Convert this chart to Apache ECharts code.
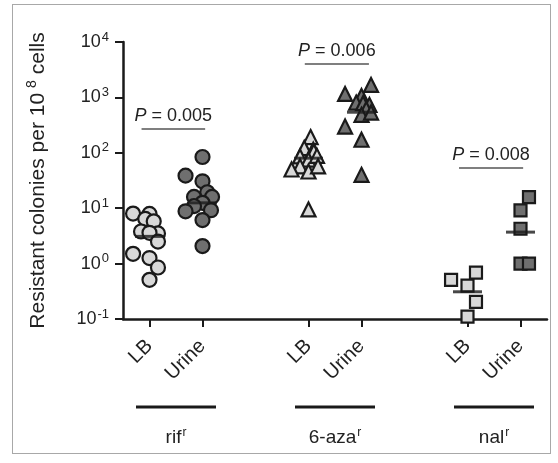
<!DOCTYPE html>
<html>
<head>
<meta charset="utf-8">
<script src="https://cdn.jsdelivr.net/npm/echarts@6/dist/echarts.min.js"></script>
<style>
  html, body { margin: 0; padding: 0; background: #fff; }
  #frame { position: absolute; left: 12px; top: 4px; width: 539px; height: 450px; border: 1.5px solid #a8a8a8; box-sizing: border-box; }
  #chart { position: absolute; left: 0; top: 0; width: 558px; height: 463px; }
</style>
</head>
<body>
<div id="frame"></div>
<div id="chart"></div>
<script>
// Condition labels and antibiotic groups
const conditions = ['LB', 'Urine'];
const groups = ['rif', '6-aza', 'nal'];
const conditionPos = [1, 2, 4, 5, 7, 8];   // x slot of each group/condition column

// Resistant colonies per 10^8 cells, one array per column
const rifLB      = [8.0, 7.9, 6.4, 5.8, 3.8, 3.5, 3.6, 2.5, 1.5, 1.26, 0.85, 0.51];
const rifUrine   = [84, 38.7, 30.6, 19.4, 16, 16, 12.5, 10.9, 8.8, 9.2, 6.1, 2.07];
const azaLB      = [192, 122, 114, 106, 86, 75, 88, 57, 50, 46, 57, 9.5];
const azaUrine   = [1680, 1157, 1065, 806, 787, 733, 620, 484, 533, 298, 172, 40];
const nalLB      = [0.69, 0.51, 0.40, 0.204, 0.11];
const nalUrine   = [15.8, 9.1, 4.26, 1.0, 1.0];

// Horizontal spread of the points inside a column (in slot units)
const rifLBJitter    = [-0.31, 0, -0.08, 0.08, -0.16, 0.16, 0, 0.16, -0.31, 0, 0.16, 0];
const rifUrineJitter = [0, -0.32, 0, 0.09, -0.16, 0.18, 0, -0.16, -0.32, 0.16, 0, 0];
const azaLBJitter    = [0.04, -0.08, 0.09, 0.1, -0.16, 0, 0.16, -0.16, -0.32, 0, 0.18, 0];
const azaUrineJitter = [0.18, -0.31, 0, -0.1, 0.03, 0.15, 0.09, 0, 0.18, -0.31, 0, 0];
const nalLBJitter    = [0.16, -0.31, 0, 0.16, 0];
const nalUrineJitter = [0.16, 0, 0, 0, 0.16];

// Medians per column
const medians = [3.1, 12.5, 80, 540, 0.31, 3.7];

// Pairwise comparisons: [from slot, to slot, bracket height, label]
const comparisons = [
  [0.85, 2.05, 271, '0.005'],
  [3.93, 5.14, 3990, '0.006'],
  [6.84, 8.05, 54, '0.008']
];

const FONT = 'Liberation Sans, Arial, Helvetica, sans-serif';
const INK = '#1a1a1a';
const LIGHT = '#d8d8d8';
const DARK = '#6f6f6f';

function pts(values, jitter, slot) {
  return values.map((v, i) => [slot + jitter[i], v]);
}

function dotSeries(values, jitter, slot, symbol, fill, size) {
  return {
    type: 'scatter',
    data: pts(values, jitter, slot),
    symbol: symbol,
    symbolSize: size,
    itemStyle: { color: fill, borderColor: INK, borderWidth: 2.2, opacity: 1 },
    z: 3,
    silent: true
  };
}

const chart = echarts.init(document.getElementById('chart'));

const series = [
  dotSeries(rifLB, rifLBJitter, conditionPos[0], 'circle', LIGHT, 14),
  dotSeries(rifUrine, rifUrineJitter, conditionPos[1], 'circle', DARK, 14),
  dotSeries(azaLB, azaLBJitter, conditionPos[2], 'triangle', LIGHT, 14),
  dotSeries(azaUrine, azaUrineJitter, conditionPos[3], 'triangle', DARK, 14),
  dotSeries(nalLB, nalLBJitter, conditionPos[4], 'rect', LIGHT, 12),
  dotSeries(nalUrine, nalUrineJitter, conditionPos[5], 'rect', DARK, 12),
  {
    type: 'scatter',
    data: medians.map((m, i) => [conditionPos[i], m]),
    symbol: 'rect',
    symbolSize: [29, 3],
    itemStyle: { color: INK },
    z: 4,
    silent: true,
    markLine: {
      silent: true,
      symbol: 'none',
      lineStyle: { color: '#555', width: 1.5, type: 'solid' },
      label: {
        show: true,
        position: 'insideMiddleTop',
        distance: 4,
        color: '#222',
        fontFamily: FONT,
        fontSize: 18,
        formatter: p => '{i|P} = ' + p.name,
        rich: { i: { fontStyle: 'italic', fontFamily: FONT, fontSize: 18, color: '#222' } }
      },
      data: comparisons.map(c => [
        { coord: [c[0], c[2]], name: c[3] },
        { coord: [c[1], c[2]] }
      ])
    }
  }
];

const labelOf = {};
conditionPos.forEach((p, i) => { labelOf[p] = conditions[i % 2]; });

chart.setOption({
  animation: false,
  grid: { left: 123, right: 11, top: 42, bottom: 144 },
  xAxis: {
    type: 'value',
    min: 0.5,
    max: 8.5,
    splitLine: { show: false },
    axisLine: { lineStyle: { color: INK, width: 2.5 } },
    axisTick: { show: true, length: 8, customValues: conditionPos, lineStyle: { color: INK, width: 2 } },
    axisLabel: {
      customValues: conditionPos,
      rotate: 45,
      margin: 24,
      color: '#222',
      fontFamily: FONT,
      fontSize: 20,
      formatter: v => labelOf[v] || ''
    }
  },
  yAxis: {
    type: 'log',
    logBase: 10,
    min: 0.1,
    max: 10000,
    splitLine: { show: false },
    axisLine: { show: true, lineStyle: { color: INK, width: 2.5 } },
    axisTick: { show: true, length: 8, lineStyle: { color: INK, width: 2 } },
    axisLabel: {
      margin: 14,
      color: '#222',
      fontFamily: FONT,
      formatter: v => '{b|10}{s|' + Math.round(Math.log10(v)) + '}',
      rich: {
        b: { fontSize: 18, fontFamily: FONT, color: '#222', lineHeight: 20 },
        s: { fontSize: 13, fontFamily: FONT, color: '#222', padding: [0, 0, 10, 1] }
      }
    },
    name: 'Resistant colonies per 10{s|8} cells',
    nameLocation: 'middle',
    nameRotate: 90,
    nameGap: 72,
    nameTextStyle: {
      fontSize: 21,
      fontFamily: FONT,
      color: '#222',
      rich: { s: { fontSize: 14, fontFamily: FONT, color: '#222', padding: [0, 0, 12, 5] } }
    }
  },
  series: series
});

// Group bars and group names under the condition labels
function drawGroups() {
  const els = [];
  groups.forEach((g, i) => {
    const a = chart.convertToPixel({ xAxisIndex: 0 }, conditionPos[i * 2]);
    const b = chart.convertToPixel({ xAxisIndex: 0 }, conditionPos[i * 2 + 1]);
    const mid = (a + b) / 2;
    els.push({
      type: 'line',
      shape: { x1: mid - 40, y1: 407, x2: mid + 40, y2: 407 },
      style: { stroke: INK, lineWidth: 3 },
      silent: true
    });
    els.push({
      type: 'text',
      x: mid,
      y: 438,
      style: {
        text: g + '{s|r}',
        fontSize: 19,
        fontFamily: FONT,
        fill: '#222',
        align: 'center',
        verticalAlign: 'middle',
        rich: { s: { fontSize: 12, fontFamily: FONT, fill: '#222', padding: [0, 0, 10, 1] } }
      },
      silent: true
    });
  });
  chart.setOption({ graphic: els });
}
drawGroups();
</script>
</body>
</html>
